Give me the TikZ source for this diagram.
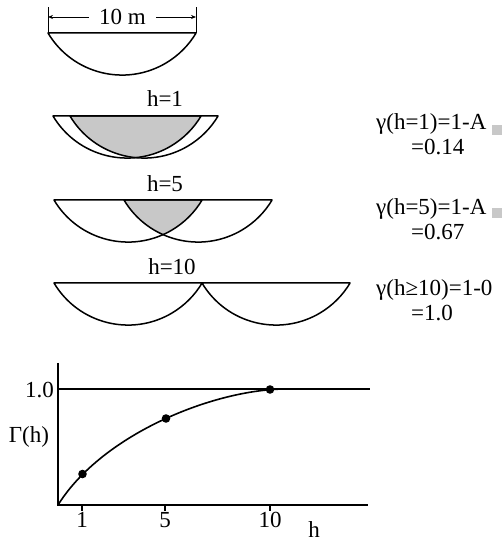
\documentclass[tikz,border=0pt]{standalone}
\usepackage{fontspec}
\setmainfont{Liberation Serif}
\usetikzlibrary{arrows.meta}
\definecolor{areagray}{RGB}{200,200,200}
\begin{document}
\begin{tikzpicture}[x=1pt,y=1pt,
  segline/.style={line width=1.5pt, line join=round},
  axisline/.style={line width=1.6pt},
  thinline/.style={line width=0.7pt},
  lbl/.style={font=\fontsize{23}{27}\selectfont, inner sep=0pt},
  dot/.style={fill=black},
  graysq/.style={fill=areagray}]
\useasboundingbox (0,0) rectangle (502,542);

% dimension
\draw[thinline] (48,509) -- (48,535);
\draw[thinline] (196,509) -- (196,535);
\node[lbl, anchor=base] (dimtxt) at (122.5,517) {10 m};
\coordinate (dl) at (48,525);
\coordinate (dr) at (196,525);
\draw[thinline, -{Stealth[length=5pt,width=4pt]}] (dimtxt.west |- dl) ++(-10,0) -- (dl);
\draw[thinline, -{Stealth[length=5pt,width=4pt]}] (dimtxt.east |- dr) ++(10,0) -- (dr);

% top segment
\draw[segline] (48,509) arc[start angle=210.8,end angle=329.2,radius=86.2] -- cycle;

% h=1
\node[lbl, anchor=base] (h1) at (165,435) {h=1};
\begin{scope}
\clip (53,426) arc[start angle=210.8,end angle=329.2,radius=86.2] -- cycle;
\fill[areagray] (70,426) arc[start angle=210.8,end angle=329.2,radius=86.2] -- cycle;
\end{scope}
\draw[segline] (53,426) arc[start angle=210.8,end angle=329.2,radius=86.2] -- cycle;
\draw[segline] (70,426) arc[start angle=210.8,end angle=329.2,radius=86.2] -- cycle;

% h=5
\node[lbl, anchor=base] (h5) at (165,350) {h=5};
\begin{scope}
\clip (54,342) arc[start angle=210.8,end angle=329.2,radius=86.2] -- cycle;
\fill[areagray] (124,342) arc[start angle=210.8,end angle=329.2,radius=86.2] -- cycle;
\end{scope}
\draw[segline] (54,342) arc[start angle=210.8,end angle=329.2,radius=86.2] -- cycle;
\draw[segline] (124,342) arc[start angle=210.8,end angle=329.2,radius=86.2] -- cycle;

% h=10
\node[lbl, anchor=base] (h10) at (172,267) {h=10};
\draw[segline] (54,259) arc[start angle=210.8,end angle=329.2,radius=86.2] -- cycle;
\draw[segline] (202,259) arc[start angle=210.8,end angle=329.2,radius=86.2] -- cycle;

% gamma labels
\node[lbl, anchor=base west] (g1a) at (376,412) {γ(h=1)=1-A};
\node[lbl, anchor=base west] (g1b) at (411,387) {=0.14};
\fill[graysq] (492,407) rectangle (502,417);
\node[lbl, anchor=base west] (g2a) at (376,327) {γ(h=5)=1-A};
\node[lbl, anchor=base west] (g2b) at (411,302) {=0.67};
\fill[graysq] (492,324) rectangle (502,334);
\node[lbl, anchor=base west] (g3a) at (376,246) {γ(h≥10)=1-0};
\node[lbl, anchor=base west] (g3b) at (411,221) {=1.0};

% graph
\coordinate (O) at (58,37);
\coordinate (ytop) at (58,179);
\coordinate (xend) at (368,37);
\coordinate (sl) at (58,153);
\coordinate (sr) at (370,153);
\draw[axisline] (ytop) -- (O) -- (xend);
\draw[axisline] (sl) -- (sr);
\foreach \xx/\nm in {82/1,165/5,270/10}{
  \draw[axisline] (\xx,37) -- (\xx,31);
  \node[lbl, anchor=base] (t\nm) at (\xx,14) {\nm};
}
\node[lbl, anchor=base] (hx) at (314,5) {h};
\node[lbl, anchor=east] (one) at (54,152) {1.0};
\node[lbl] (Gam) at (29,105) {Γ(h)};
\coordinate (p1) at (82.5,68);
\coordinate (p2) at (166,123.5);
\coordinate (p3) at (270,152.5);
\coordinate (cend) at (286,153);
\draw[axisline] (O) .. controls (103,109) and (216,153) .. (cend);
\fill[dot] (p1) circle[radius=4.3];
\fill[dot] (p2) circle[radius=4.3];
\fill[dot] (p3) circle[radius=4.3];
\end{tikzpicture}
\end{document}
